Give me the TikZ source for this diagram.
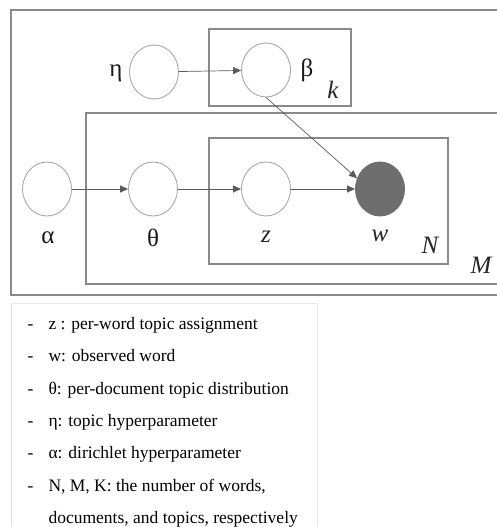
\documentclass[tikz,border=0pt]{standalone}
\usepackage{fontspec}
\setmainfont{Liberation Serif}
\usepackage{tikz}
\usetikzlibrary{arrows.meta, shapes.geometric}
\usepackage{xcolor}
\definecolor{plateGray}{HTML}{8A8A8A}
\definecolor{nodeGray}{HTML}{A8A8A8}
\definecolor{edgeGray}{HTML}{5A5A5A}
\definecolor{obsGray}{HTML}{6E6E6E}
\definecolor{legendGray}{HTML}{E6E6E6}

\begin{document}
\begin{tikzpicture}[x=1pt, y=-1pt,
  latent/.style={ellipse, draw=nodeGray, line width=0.9pt, fill=white,
                 minimum width=49pt, minimum height=54pt, inner sep=0pt},
  observed/.style={latent, draw=obsGray, fill=obsGray},
  plate/.style={draw=plateGray, line width=1.1pt},
  edge/.style={-{Triangle[length=8pt, width=7pt]}, edgeGray, line width=0.7pt},
  lbl/.style={font=\fontsize{25}{25}\selectfont, text=black!90},
  itlbl/.style={font=\fontsize{25}{25}\selectfont\itshape, text=black!85},
  legend/.style={anchor=base west, font=\fontsize{17.5}{17.5}\selectfont, text=black}]
  \useasboundingbox (0,0) rectangle (496,527);
  % Plates
  \draw[plate] (11,10) rectangle (510,295);
  \draw[plate] (209,29) rectangle (351,106);
  \draw[plate] (86,113) rectangle (505,284);
  \draw[plate] (209,138) rectangle (448,264);
  % Variables
  \node[latent] (eta) at (154,72) {};
  \node[latent] (beta) at (266,70) {};
  \node[latent] (alpha) at (47,189) {};
  \node[latent] (theta) at (153,189) {};
  \node[latent] (z) at (266,189) {};
  \node[observed] (w) at (380,189) {};
  % Edges
  \draw[edge] (eta) -- (beta);
  \draw[edge] (alpha) -- (theta);
  \draw[edge] (theta) -- (z);
  \draw[edge] (z) -- (w);
  \draw[edge] (beta.south) -- (w.155);
  % Labels
  \node[lbl] (lblEta) at (116,73) {η};
  \node[lbl] (lblBeta) at (307,70) {β};
  \node[itlbl] (lblK) at (333,90) {k};
  \node[lbl] (lblAlpha) at (48,238) {α};
  \node[lbl] (lblTheta) at (153,238) {θ};
  \node[itlbl] (lblZ) at (266,237) {z};
  \node[itlbl] (lblW) at (380,236) {w};
  \node[itlbl] (lblN) at (430,245) {N};
  \node[itlbl] (lblM) at (481,265) {M};
  % Legend
  \draw[legendGray, line width=0.8pt] (11,303) rectangle (317,540);
  \node[legend] (dash1) at (24,329) {-};
  \node[legend] (txt1) at (45,329) {z : per-word topic assignment};
  \node[legend] (dash2) at (24,361) {-};
  \node[legend] (txt2) at (45,361) {w: observed word};
  \node[legend] (dash3) at (24,394) {-};
  \node[legend] (txt3) at (45,394) {θ: per-document topic distribution};
  \node[legend] (dash4) at (24,426) {-};
  \node[legend] (txt4) at (45,426) {η: topic hyperparameter};
  \node[legend] (dash5) at (24,458) {-};
  \node[legend] (txt5) at (45,458) {α: dirichlet hyperparameter};
  \node[legend] (dash6) at (24,491) {-};
  \node[legend] (txt6) at (45,491) {N, M, K: the number of words,};
  \node[legend] (txt7) at (45,523) {documents, and topics, respectively};
\end{tikzpicture}
\end{document}
